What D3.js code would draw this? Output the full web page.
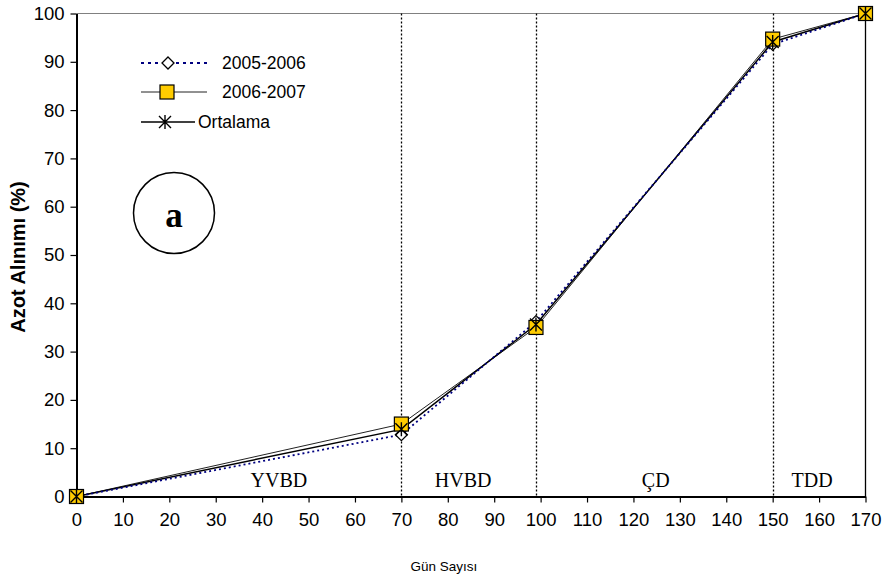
<!DOCTYPE html>
<html><head><meta charset="utf-8">
<script src="https://cdn.jsdelivr.net/npm/d3@7"></script>
<style>body{margin:0;background:#fff}svg{display:block}</style>
</head><body><svg id="c" width="885" height="584"></svg>
<script>
const days = [0, 70, 99, 150, 170];
const s2005 = [0, 12.8, 36.2, 93.6, 100];
const s2006 = [0, 15.0, 35.0, 94.7, 100];
const sOrt  = [0, 13.9, 35.6, 94.1, 100];
const xTicks = [0,10,20,30,40,50,60,70,80,90,100,110,120,130,140,150,160,170];
const yTicks = [0,10,20,30,40,50,60,70,80,90,100];
const periodLines = [70, 99, 150];
const periods = [{name:"YVBD", at:43.6}, {name:"HVBD", at:83.3}, {name:"ÇD", at:124.8}, {name:"TDD", at:158.5}];
const seriesNames = ["2005-2006","2006-2007","Ortalama"];

const svg = d3.select("#c");
const x = d3.scaleLinear().domain([0,170]).range([76.5, 865.5]);
const y = d3.scaleLinear().domain([0,100]).range([496.5, 13.5]);

// top border gray
svg.append("line").attr("x1",x(0)).attr("x2",x(170)).attr("y1",y(100)).attr("y2",y(100)).attr("stroke","#808080").attr("stroke-width",1);
// right border
svg.append("line").attr("x1",x(170)).attr("x2",x(170)).attr("y1",y(100)).attr("y2",y(0)).attr("stroke","#000").attr("stroke-width",1.3);

// period lines
svg.selectAll(".pl").data(periodLines).enter().append("line")
  .attr("x1",d=>Math.round(x(d))+0.5).attr("x2",d=>Math.round(x(d))+0.5)
  .attr("y1",y(100)).attr("y2",y(0))
  .attr("stroke","#000").attr("stroke-width",1.3).attr("stroke-dasharray","2,2");

// axes
const xa = svg.append("g").attr("transform",`translate(0,${y(0)})`)
  .call(d3.axisBottom(x).tickValues(xTicks).tickSize(6).tickSizeOuter(0).tickPadding(10));
const ya = svg.append("g").attr("transform",`translate(${x(0)},0)`)
  .call(d3.axisLeft(y).tickValues(yTicks).tickSize(6).tickSizeOuter(0).tickPadding(6));
[xa,ya].forEach(a=>{
  a.select(".domain").attr("stroke","#000").attr("stroke-width",2);
  a.selectAll(".tick line").attr("stroke","#000").attr("stroke-width",1.2);
  a.selectAll("text").attr("font-family","Liberation Sans, Arial, sans-serif").attr("font-size",18.5).attr("fill","#000");
});

// period labels
svg.selectAll(".pt").data(periods).enter().append("text")
  .attr("x",d=>x(d.at)).attr("y",487).attr("text-anchor","middle")
  .attr("font-family","Liberation Serif, Times New Roman, serif").attr("font-size",20).text(d=>d.name);

// axis titles
svg.append("text").attr("transform","translate(25,257) rotate(-90)").attr("text-anchor","middle")
  .attr("font-family","Liberation Sans, Arial, sans-serif").attr("font-weight","bold").attr("font-size",20)
  .text("Azot Alınımı (%)");
svg.append("text").attr("x",444).attr("y",571).attr("text-anchor","middle")
  .attr("font-family","Liberation Sans, Arial, sans-serif").attr("font-size",13.5).text("Gün Sayısı");

// circle "a"
svg.append("circle").attr("cx",174).attr("cy",213).attr("r",40.5).attr("fill","none").attr("stroke","#000").attr("stroke-width",1.5);
svg.append("text").attr("x",174).attr("y",227).attr("text-anchor","middle")
  .attr("font-family","Liberation Serif, Times New Roman, serif").attr("font-weight","bold").attr("font-size",35).text("a");

const line = d3.line().x(d=>x(d[0])).y(d=>y(d[1]));
const pts = arr => days.map((d,i)=>[d,arr[i]]);

// lines
svg.append("path").datum(pts(s2006)).attr("d",line).attr("fill","none").attr("stroke","#222").attr("stroke-width",1);
svg.append("path").datum(pts(sOrt)).attr("d",line).attr("fill","none").attr("stroke","#000").attr("stroke-width",1.5);
svg.append("path").datum(pts(s2005)).attr("d",line).attr("fill","none").attr("stroke","#000080").attr("stroke-width",1.8).attr("stroke-dasharray","2,3");

// markers
function diamond(g,cx,cy){ g.append("path").attr("d",`M${cx},${cy-6}L${cx+6},${cy}L${cx},${cy+6}L${cx-6},${cy}Z`).attr("fill","#fff").attr("stroke","#000").attr("stroke-width",1.3); }
function square(g,cx,cy){ g.append("rect").attr("x",cx-7).attr("y",cy-7).attr("width",14).attr("height",14).attr("fill","#FFCC00").attr("stroke","#000").attr("stroke-width",1.2); }
function star(g,cx,cy){ const r=6; g.append("path").attr("d",`M${cx-r},${cy-r}L${cx+r},${cy+r}M${cx+r},${cy-r}L${cx-r},${cy+r}M${cx},${cy-r-1}L${cx},${cy+r+1}`).attr("stroke","#000").attr("stroke-width",1.4).attr("fill","none"); }
const mg = svg.append("g");
pts(s2005).forEach(p=>diamond(mg,x(p[0]),y(p[1])));
pts(s2006).forEach(p=>square(mg,x(p[0]),y(p[1])));
pts(sOrt).forEach(p=>star(mg,x(p[0]),y(p[1])));

// legend
const lg = svg.append("g");
const ly = [63, 92, 122];
lg.append("line").attr("x1",141).attr("x2",208).attr("y1",ly[0]).attr("y2",ly[0]).attr("stroke","#000080").attr("stroke-width",1.8).attr("stroke-dasharray","3,4");
diamond(lg,168,ly[0]);
lg.append("line").attr("x1",141).attr("x2",207).attr("y1",ly[1]).attr("y2",ly[1]).attr("stroke","#222").attr("stroke-width",1);
square(lg,167,ly[1]);
lg.append("line").attr("x1",141).attr("x2",195).attr("y1",ly[2]).attr("y2",ly[2]).attr("stroke","#000").attr("stroke-width",1.5);
star(lg,165,ly[2]);
lg.selectAll(".lt").data(seriesNames).enter().append("text")
  .attr("x",(d,i)=> i===2?198:222).attr("y",(d,i)=>ly[i]+6)
  .attr("font-family","Liberation Sans, Arial, sans-serif").attr("font-size",17.5).text(d=>d);
</script></body></html>
